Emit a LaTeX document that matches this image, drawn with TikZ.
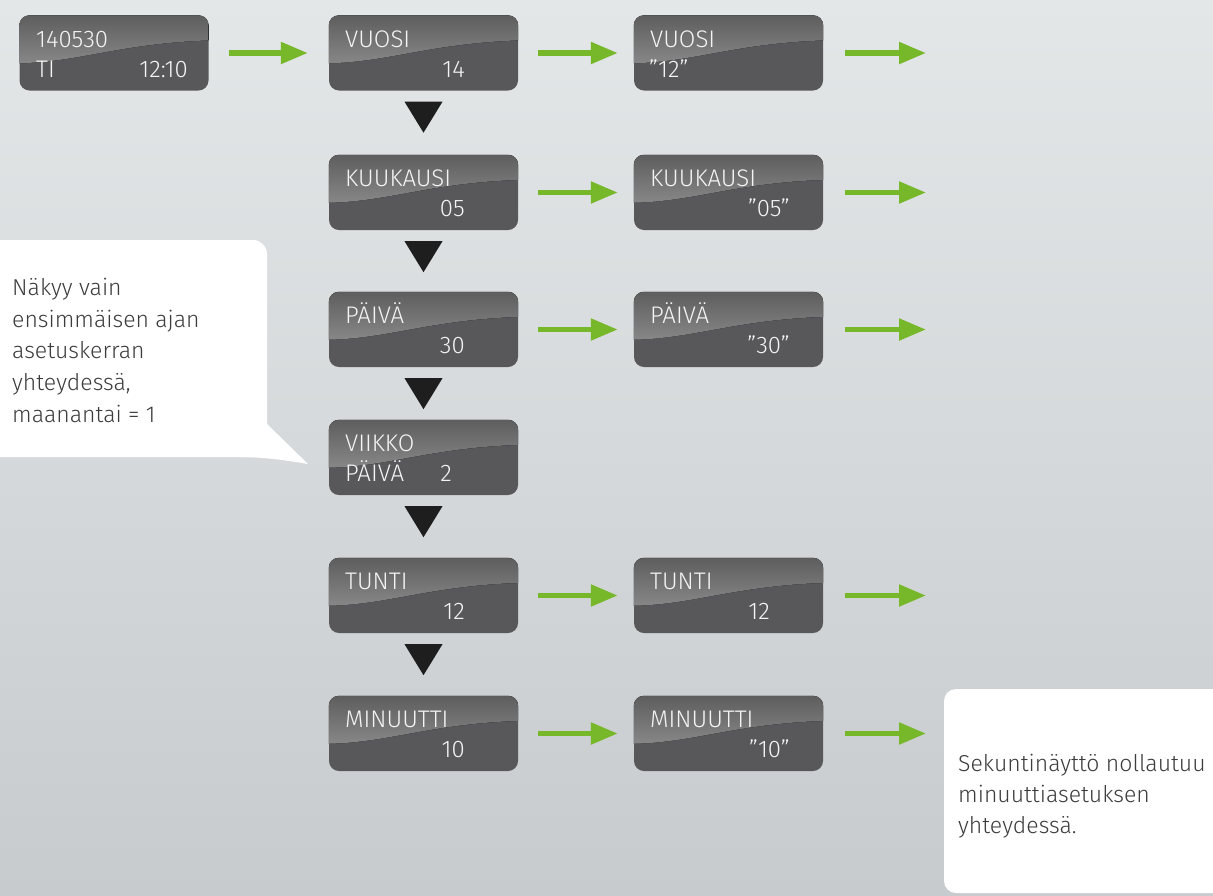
\documentclass[tikz,border=0pt]{standalone}
\usepackage{fontspec}
\IfFontExistsTF{Fira Sans Light}{\setmainfont{Fira Sans Light}}{\setmainfont{Fira Sans}}
\usetikzlibrary{arrows.meta}
\definecolor{bgtop}{HTML}{E4E7E8}
\definecolor{bgbot}{HTML}{C8CBCE}
\definecolor{boxdark}{HTML}{58585A}
\definecolor{boxtop}{HTML}{5C5C5C}
\definecolor{boxwave}{HTML}{878787}
\definecolor{arrowgreen}{HTML}{77B82A}
\definecolor{tridark}{HTML}{1E1E1E}
\definecolor{calltext}{HTML}{3C3C3C}
\definecolor{boxtext}{HTML}{F4F4F4}
\tikzset{
  dispbox/.style={minimum width=189pt, minimum height=75pt, inner sep=0pt,
    rounded corners=10pt, fill=boxdark},
  wavefill/.style={top color=boxtop, bottom color=boxwave},
  boxlbl/.style={text=boxtext, font=\fontsize{24}{28}\selectfont, inner sep=0pt, anchor=base west},
  boxval/.style={text=boxtext, font=\fontsize{24}{28}\selectfont, inner sep=0pt, anchor=base east},
  calltxt/.style={text=calltext, font=\fontsize{23}{27}\selectfont, inner sep=0pt, anchor=base west},
  garrow/.style={draw=arrowgreen, line width=5.3pt, -{Triangle[length=27pt,width=21pt]}},
  tridown/.style={fill=tridark},
  bubble/.style={fill=white}
}
\begin{document}
\begin{tikzpicture}[x=1pt,y=-1pt]
\useasboundingbox (0,0) rectangle (1213,895);
\clip (0,0) rectangle (1213,895);
\shade[top color=bgtop, bottom color=bgbot] (0,0) rectangle (1213,895);

% callouts
\fill[bubble, rounded corners=14pt] (-20,240) rectangle (267,457);
\fill[bubble] (267,424) -- (308,464) .. controls (285,460) and (262,457) .. (240,457) -- (240,424) -- cycle;
\fill[bubble, rounded corners=12pt] (944,689) rectangle (1240,893);

% boxes
\node[dispbox] (b0) at (114,53) {};
\node[dispbox] (v1) at (423.5,53) {};
\node[dispbox] (v2) at (728.5,53) {};
\node[dispbox] (k1) at (423.5,192.5) {};
\node[dispbox] (k2) at (728.5,192.5) {};
\node[dispbox] (p1) at (423.5,329.5) {};
\node[dispbox] (p2) at (728.5,329.5) {};
\node[dispbox] (w1) at (423.5,457.5) {};
\node[dispbox] (t1) at (423.5,595.5) {};
\node[dispbox] (t2) at (728.5,595.5) {};
\node[dispbox] (m1) at (423.5,733.5) {};
\node[dispbox] (m2) at (728.5,733.5) {};

% glossy wave on each box
\foreach \n in {b0,v1,v2,k1,k2,p1,p2,w1,t1,t2,m1,m2}{
  \begin{scope}
    \clip[rounded corners=10pt] (\n.north west) rectangle (\n.south east);
    \begin{scope}[shift={(\n.north west)}]
      \fill[wavefill] (-2,-2) -- (192,-2) -- (192,25) .. controls (100,28) and (60,47) .. (-2,48) -- cycle;
    \end{scope}
  \end{scope}
}

% box texts
\node[boxlbl] (b0a) at (36,47) {140530};
\node[boxlbl] (b0b) at (36,77) {TI};
\node[boxval] (b0c) at (188,77) {12:10};
\node[boxlbl] (v1a) at (345,47) {VUOSI};
\node[boxval] (v1b) at (465,77) {14};
\node[boxlbl] (v2a) at (650,47) {VUOSI};
\node[boxlbl] (v2b) at (649,77) {”12”};
\node[boxlbl] (k1a) at (345,186) {KUUKAUSI};
\node[boxval] (k1b) at (465,216) {05};
\node[boxlbl] (k2a) at (650,186) {KUUKAUSI};
\node[boxval] (k2b) at (790,216) {”05”};
\node[boxlbl] (p1a) at (345,323) {PÄIVÄ};
\node[boxval] (p1b) at (465,353) {30};
\node[boxlbl] (p2a) at (650,323) {PÄIVÄ};
\node[boxval] (p2b) at (790,353) {”30”};
\node[boxlbl] (w1a) at (345,451) {VIIKKO};
\node[boxlbl] (w1b) at (345,481) {PÄIVÄ};
\node[boxval] (w1c) at (452,481) {2};
\node[boxlbl] (t1a) at (345,589) {TUNTI};
\node[boxval] (t1b) at (465,619) {12};
\node[boxlbl] (t2a) at (650,589) {TUNTI};
\node[boxval] (t2b) at (770,619) {12};
\node[boxlbl] (m1a) at (345,727) {MINUUTTI};
\node[boxval] (m1b) at (465,757) {10};
\node[boxlbl] (m2a) at (650,727) {MINUUTTI};
\node[boxval] (m2b) at (790,757) {”10”};

% callout texts
\node[calltxt] (c1) at (12,295) {Näkyy vain};
\node[calltxt] (c2) at (12,327) {ensimmäisen ajan};
\node[calltxt] (c3) at (12,358) {asetuskerran};
\node[calltxt] (c4) at (12,390) {yhteydessä,};
\node[calltxt] (c5) at (12,422) {maanantai = 1};
\node[calltxt] (d1) at (958,771) {Sekuntinäyttö nollautuu};
\node[calltxt] (d2) at (958,802) {minuuttiasetuksen};
\node[calltxt] (d3) at (958,833) {yhteydessä.};

% free arrow ends
\coordinate (v3) at (926,53);
\coordinate (k3) at (926,192.5);
\coordinate (p3) at (926,329.5);
\coordinate (t3) at (926,595.5);
\coordinate (m3) at (926,733.5);

% green arrows
\draw[garrow, shorten <=20pt, shorten >=21pt] (b0.east) -- (v1.west);
\foreach \r in {v,k,p,t,m}{
  \draw[garrow, shorten <=20pt, shorten >=16pt] (\r1.east) -- (\r2.west);
  \draw[garrow, shorten <=22pt] (\r2.east) -- (\r3);
}

% down triangles
\foreach \a in {v1,k1,p1,w1,t1}{
  \fill[tridown] ([xshift=-19pt,yshift=-11pt]\a.south) -- ++(38,0) -- ++(-19,31) -- cycle;
}
\end{tikzpicture}
\end{document}
